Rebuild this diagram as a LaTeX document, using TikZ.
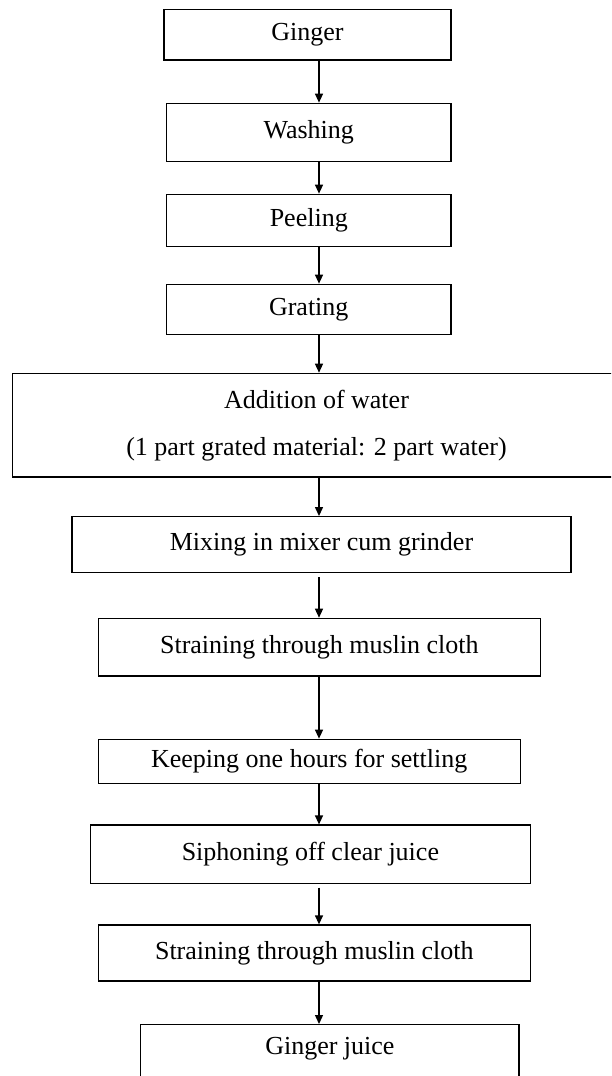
\documentclass[tikz,border=0pt]{standalone}
\usepackage{fontspec}
\setmainfont{Liberation Serif}
\usetikzlibrary{arrows.meta}
\begin{document}
\begin{tikzpicture}[x=1pt,y=-1pt,
  stepbox/.style={draw, line width=1.3pt, rectangle, inner sep=0pt,
    font=\fontsize{26}{47}\selectfont, align=center},
  flow/.style={line width=1.3pt, -{Triangle[length=9pt,width=8pt]}}]
\useasboundingbox (0,0) rectangle (611,1076);
\clip (0,0) rectangle (611,1076);
\fill[white] (0,0) rectangle (611,1076);
\coordinate (ax) at (319,0);
\node[stepbox, minimum width=287pt, minimum height=50.5pt] (g1) at (307.5,34.75) {Ginger};
\node[stepbox, minimum width=284.5pt, minimum height=58.4pt] (g2) at (308.75,132.5) {Washing};
\node[stepbox, minimum width=284.5pt, minimum height=52.4pt] (g3) at (308.75,220.5) {Peeling};
\node[stepbox, minimum width=284.5pt, minimum height=50pt] (g4) at (308.75,309.3) {Grating};
\node[stepbox, minimum width=608pt, minimum height=103.7pt] (g5) at (316.5,425.2) {Addition of water\\(1 part grated material: 2 part water)};
\node[stepbox, minimum width=498.8pt, minimum height=56pt] (g6) at (321.5,544.7) {Mixing in mixer cum grinder};
\node[stepbox, minimum width=442.3pt, minimum height=57.7pt] (g7) at (319.35,647.2) {Straining through muslin cloth};
\node[stepbox, minimum width=422.1pt, minimum height=44.4pt] (g8) at (309.25,761.5) {Keeping one hours for settling};
\node[stepbox, minimum width=440pt, minimum height=58.3pt] (g9) at (310.4,854.2) {Siphoning off clear juice};
\node[stepbox, minimum width=432.2pt, minimum height=56pt] (g10) at (314.3,953) {Straining through muslin cloth};
\node[stepbox, minimum width=378.2pt, text height=24pt, text depth=50pt, inner ysep=6pt, anchor=north] (g11) at (329.9,1024) {Ginger juice};
\draw[flow] (g1.south -| ax) -- (g2.north -| ax);
\draw[flow] (g2.south -| ax) -- (g3.north -| ax);
\draw[flow] (g3.south -| ax) -- (g4.north -| ax);
\draw[flow] (g4.south -| ax) -- (g5.north -| ax);
\draw[flow] (g5.south -| ax) -- (g6.north -| ax);
\draw[flow, shorten <=4pt] (g6.south -| ax) -- (g7.north -| ax);
\draw[flow] (g7.south -| ax) -- (g8.north -| ax);
\draw[flow] (g8.south -| ax) -- (g9.north -| ax);
\draw[flow, shorten <=3.5pt] (g9.south -| ax) -- (g10.north -| ax);
\draw[flow] (g10.south -| ax) -- (g11.north -| ax);
\end{tikzpicture}
\end{document}
